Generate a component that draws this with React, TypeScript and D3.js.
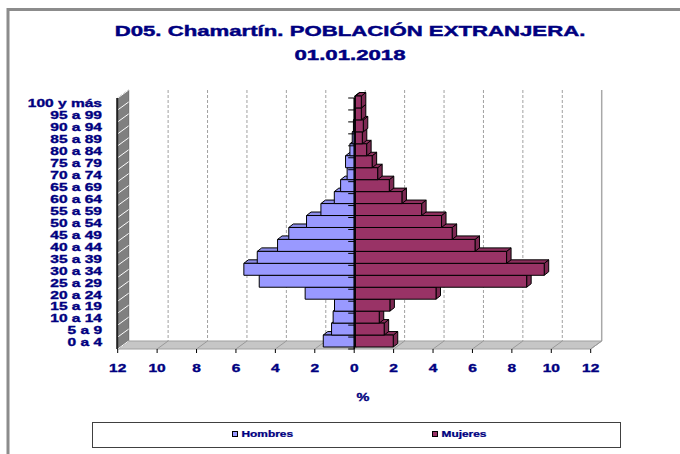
import * as d3 from "d3";

// age groups, bottom to top
const categories = [
  "0 a 4", "5 a 9", "10 a 14", "15 a 19", "20 a 24", "25 a 29", "30 a 34",
  "35 a 39", "40 a 44", "45 a 49", "50 a 54", "55 a 59", "60 a 64", "65 a 69",
  "70 a 74", "75 a 79", "80 a 84", "85 a 89", "90 a 94", "95 a 99", "100 y más",
];

// % of foreign population
const hombres = [
  1.63, 1.21, 1.13, 1.06, 2.55, 4.88, 5.66, 4.98, 3.95, 3.38, 2.48,
  1.75, 1.07, 0.75, 0.42, 0.5, 0.28, 0.16, 0.1, 0.05, 0.03,
];
const mujeres = [
  1.92, 1.46, 1.21, 1.75, 4.09, 8.69, 9.58, 7.67, 6.07, 4.91, 4.37,
  3.36, 2.36, 1.72, 1.13, 0.85, 0.57, 0.35, 0.4, 0.3, 0.3,
];

const xTicks = [-12, -10, -8, -6, -4, -2, 0, 2, 4, 6, 8, 10, 12];

const NAVY = "#000080";
const FONT = "'Liberation Sans', Arial, sans-serif";
const SX = 1.45; // horizontal stretch of all texts

const COL_H = "#9999FF";
const COL_M = "#993366";

export default function App() {
  const width = 680;
  const height = 454;

  const front = { left: 117.7, right: 590.7, top: 98, bottom: 349 };
  const DX = 11;
  const DY = -8;
  const barOff = { x: 1.2, y: -2 };
  const ext = { x: 4.5, y: -3.5 };

  const x = d3.scaleLinear().domain([-12, 12]).range([front.left, front.right]);
  const y = d3.scaleBand<string>().domain(categories).range([front.bottom, front.top]).padding(0);
  const bw = y.bandwidth();

  const poly = (pts: [number, number][]) => "M" + pts.map((p) => p.join(",")).join("L") + "Z";

  const bar = (cat: string, v0: number, v1: number, color: string, key: string) => {
    const xl = x(v0) + barOff.x;
    const xr = x(v1) + barOff.x;
    const yt = (y(cat) as number) + barOff.y;
    const yb = yt + bw;
    const dark = d3.color(color)!.darker(0.6).toString();
    const mid = d3.color(color)!.darker(0.25).toString();
    return (
      <g key={key} stroke="#000" strokeWidth={1} strokeLinejoin="round">
        <path
          d={poly([[xr, yt], [xr + ext.x, yt + ext.y], [xr + ext.x, yb + ext.y], [xr, yb]])}
          fill={dark}
        />
        <path
          d={poly([[xl, yt], [xr, yt], [xr + ext.x, yt + ext.y], [xl + ext.x, yt + ext.y]])}
          fill={mid}
        />
        <rect x={xl} y={yt} width={Math.max(0, xr - xl)} height={bw} fill={color} />
      </g>
    );
  };

  const boundaries = d3.range(categories.length + 1).map((i) => front.bottom - i * bw);

  return (
    <svg
      width={width}
      height={height}
      style={{ position: "absolute", left: 0, top: 0, background: "#fff" }}
      fontFamily={FONT}
      fontWeight="bold"
    >
      <rect x={0} y={0} width={width} height={height} fill="#fff" />
      {/* chart area frame */}
      <path d={`M8,${height} L8,9.5 L${width},9.5`} fill="none" stroke="#8c8c8c" strokeWidth={3} />

      {/* title */}
      <g fill={NAVY} stroke={NAVY} strokeWidth={0.45} fontSize={15.3} textAnchor="middle">
        <text transform={`translate(350,36) scale(${SX},1)`}>D05. Chamartín. POBLACIÓN EXTRANJERA.</text>
        <text transform={`translate(350,60) scale(${SX},1)`}>01.01.2018</text>
      </g>

      {/* back wall gridlines */}
      {xTicks.slice(1, -1).map((t) => (
        <line
          key={"g" + t}
          x1={x(t) + DX}
          x2={x(t) + DX}
          y1={front.top + DY}
          y2={front.bottom + DY}
          stroke="#a0a0a0"
          strokeDasharray="3,2"
        />
      ))}
      <line
        x1={x(12) + DX}
        x2={x(12) + DX}
        y1={front.top + DY}
        y2={front.bottom + DY}
        stroke="#a8a8a8"
        strokeWidth={1.5}
      />

      {/* floor */}
      <path
        d={poly([
          [x(-12), front.bottom],
          [x(12), front.bottom],
          [x(12) + DX, front.bottom + DY],
          [x(-12) + DX, front.bottom + DY],
        ])}
        fill="#c6c6c6"
        stroke="#a0a0a0"
      />
      {xTicks.map((t) => (
        <line
          key={"f" + t}
          x1={x(t)}
          x2={x(t) + DX}
          y1={front.bottom}
          y2={front.bottom + DY}
          stroke="#9a9a9a"
        />
      ))}

      {/* side wall */}
      <path
        d={poly([
          [x(-12), front.bottom],
          [x(-12), front.top],
          [x(-12) + DX, front.top + DY],
          [x(-12) + DX, front.bottom + DY],
        ])}
        fill="#808080"
        stroke="#6a6a6a"
      />
      {boundaries.map((b, i) => (
        <line key={"w" + i} x1={x(-12)} x2={x(-12) + DX} y1={b} y2={b + DY} stroke="#fff" strokeWidth={1} />
      ))}
      <line x1={x(-12) - 0.5} x2={x(-12) - 0.5} y1={front.top} y2={front.bottom} stroke="#222" strokeWidth={2} />

      {/* bars */}
      {categories.map((c, i) => (
        <g key={c}>
          {bar(c, -hombres[i], 0, COL_H, "h" + i)}
          {bar(c, 0, mujeres[i], COL_M, "m" + i)}
        </g>
      ))}

      {/* category axis at 0 */}
      <line x1={x(0)} x2={x(0)} y1={front.top} y2={front.bottom} stroke="#000" strokeWidth={1.5} />
      {boundaries.map((b, i) => (
        <line key={"t" + i} x1={x(0) - 6} x2={x(0)} y1={b} y2={b} stroke="#000" />
      ))}

      {/* category labels */}
      <g fill={NAVY} stroke={NAVY} strokeWidth={0.35} fontSize={10.7} textAnchor="end">
        {categories.map((c) => (
          <text
            key={"l" + c}
            transform={`translate(102,${(y(c) as number) + bw / 2 + 3.3}) scale(${SX},1)`}
          >
            {c}
          </text>
        ))}
      </g>

      {/* value axis ticks and labels */}
      {xTicks.map((t) => (
        <g key={"x" + t}>
          <line x1={x(t)} x2={x(t)} y1={front.bottom} y2={front.bottom + 4} stroke="#000" />
          <text
            transform={`translate(${x(t)},372) scale(${SX},1)`}
            textAnchor="middle"
            fill={NAVY}
            stroke={NAVY}
            strokeWidth={0.35}
            fontSize={10.7}
          >
            {Math.abs(t)}
          </text>
        </g>
      ))}
      <text
        transform={`translate(363,401) scale(${SX},1)`}
        textAnchor="middle"
        fill={NAVY}
        stroke={NAVY}
        strokeWidth={0.3}
        fontSize={10}
      >
        %
      </text>

      {/* legend */}
      <rect x={92.5} y={422.5} width={528} height={25} fill="#fff" stroke="#404040" />
      {[
        { label: "Hombres", color: COL_H, lx: 232 },
        { label: "Mujeres", color: COL_M, lx: 432 },
      ].map((d) => (
        <g key={d.label}>
          <rect x={d.lx + 0.5} y={431.5} width={5} height={5} fill={d.color} stroke="#000" />
          <text
            transform={`translate(${d.lx + 9.5},437) scale(${SX},1)`}
            fill={NAVY}
            stroke={NAVY}
            strokeWidth={0.25}
            fontSize={8.2}
          >
            {d.label}
          </text>
        </g>
      ))}
    </svg>
  );
}
